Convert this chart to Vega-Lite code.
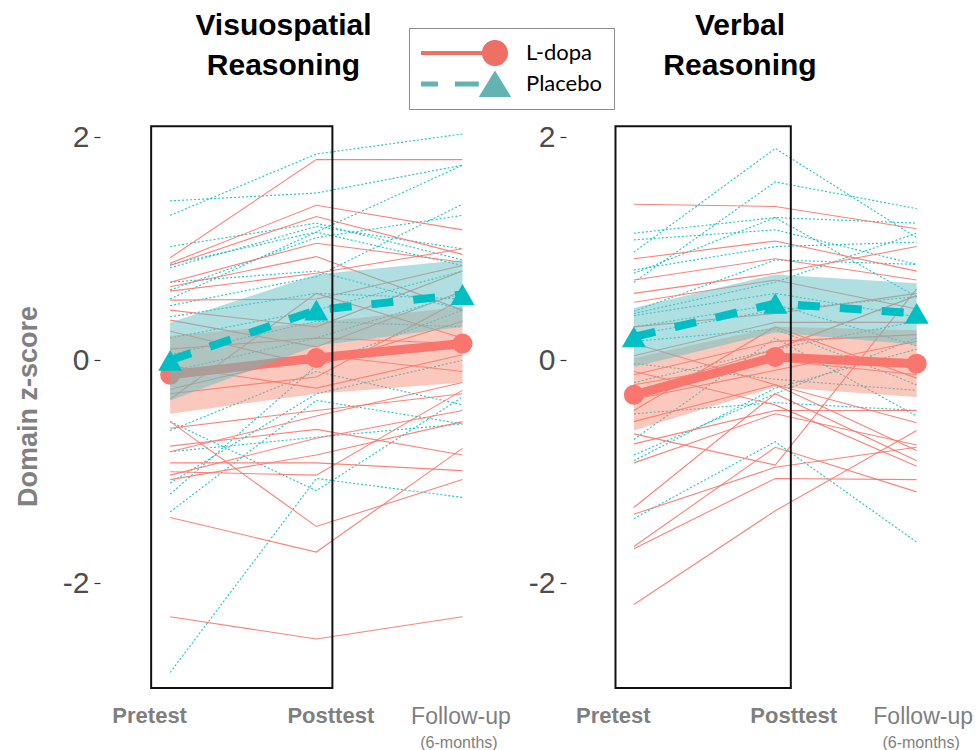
{
  "$schema": "https://vega.github.io/schema/vega-lite/v6.json",
  "padding": {"left": 14, "top": 11, "right": 0, "bottom": 0},
  "config": {"view": {"stroke": null}, "font": "Liberation Sans"},
  "datasets": {
    "indiv": [
      {"p":"V","g":"L-dopa","id":"VL01","1":0.92,"2":1.80,"3":1.80},
      {"p":"V","g":"L-dopa","id":"VL02","1":0.87,"2":1.39,"3":1.17},
      {"p":"V","g":"L-dopa","id":"VL03","1":0.85,"2":1.29,"3":0.95},
      {"p":"V","g":"L-dopa","id":"VL04","1":0.70,"2":1.05,"3":0.88},
      {"p":"V","g":"L-dopa","id":"VL05","1":0.66,"2":0.93,"3":0.45},
      {"p":"V","g":"L-dopa","id":"VL06","1":0.62,"2":0.78,"3":1.00},
      {"p":"V","g":"L-dopa","id":"VL07","1":0.54,"2":0.55,"3":0.85},
      {"p":"V","g":"L-dopa","id":"VL08","1":0.45,"2":0.30,"3":0.80},
      {"p":"V","g":"L-dopa","id":"VL09","1":0.36,"2":0.12,"3":0.62},
      {"p":"V","g":"L-dopa","id":"VL10","1":0.26,"2":-0.05,"3":0.35},
      {"p":"V","g":"L-dopa","id":"VL11","1":0.10,"2":0.20,"3":0.15},
      {"p":"V","g":"L-dopa","id":"VL12","1":-0.05,"2":-0.25,"3":0.05},
      {"p":"V","g":"L-dopa","id":"VL13","1":-0.26,"2":0.05,"3":-0.10},
      {"p":"V","g":"L-dopa","id":"VL14","1":-0.30,"2":-0.15,"3":0.55},
      {"p":"V","g":"L-dopa","id":"VL15","1":-0.35,"2":0.60,"3":0.20},
      {"p":"V","g":"L-dopa","id":"VL16","1":-0.61,"2":-0.45,"3":-0.30},
      {"p":"V","g":"L-dopa","id":"VL17","1":-0.77,"2":-0.62,"3":-0.85},
      {"p":"V","g":"L-dopa","id":"VL18","1":-0.82,"2":-0.50,"3":-0.20},
      {"p":"V","g":"L-dopa","id":"VL19","1":-0.92,"2":-0.92,"3":-0.99},
      {"p":"V","g":"L-dopa","id":"VL20","1":-1.00,"2":-1.03,"3":-0.27},
      {"p":"V","g":"L-dopa","id":"VL21","1":-1.03,"2":-0.70,"3":-0.45},
      {"p":"V","g":"L-dopa","id":"VL22","1":-0.55,"2":-1.49,"3":-1.07},
      {"p":"V","g":"L-dopa","id":"VL23","1":-1.41,"2":-1.72,"3":-0.79},
      {"p":"V","g":"L-dopa","id":"VL24","1":-2.30,"2":-2.50,"3":-2.30},
      {"p":"V","g":"L-dopa","id":"VL25","1":-1.07,"2":-0.85,"3":-0.55},
      {"p":"V","g":"Placebo","id":"VP01","1":1.43,"2":1.50,"3":1.75},
      {"p":"V","g":"Placebo","id":"VP02","1":1.30,"2":1.85,"3":2.03},
      {"p":"V","g":"Placebo","id":"VP03","1":1.02,"2":1.23,"3":0.90},
      {"p":"V","g":"Placebo","id":"VP04","1":0.86,"2":1.15,"3":1.75},
      {"p":"V","g":"Placebo","id":"VP05","1":0.83,"2":1.20,"3":1.00},
      {"p":"V","g":"Placebo","id":"VP06","1":0.63,"2":1.10,"3":1.30},
      {"p":"V","g":"Placebo","id":"VP07","1":0.55,"2":1.15,"3":0.85},
      {"p":"V","g":"Placebo","id":"VP08","1":0.49,"2":0.75,"3":1.40},
      {"p":"V","g":"Placebo","id":"VP09","1":0.39,"2":0.60,"3":0.55},
      {"p":"V","g":"Placebo","id":"VP10","1":0.70,"2":0.80,"3":0.45},
      {"p":"V","g":"Placebo","id":"VP11","1":0.20,"2":0.45,"3":0.80},
      {"p":"V","g":"Placebo","id":"VP12","1":0.05,"2":0.35,"3":0.30},
      {"p":"V","g":"Placebo","id":"VP13","1":-0.10,"2":0.20,"3":0.60},
      {"p":"V","g":"Placebo","id":"VP14","1":-0.55,"2":-1.17,"3":-0.33},
      {"p":"V","g":"Placebo","id":"VP15","1":-0.63,"2":-0.10,"3":-0.40},
      {"p":"V","g":"Placebo","id":"VP16","1":-0.82,"2":-0.69,"3":-0.57},
      {"p":"V","g":"Placebo","id":"VP17","1":-1.10,"2":-0.30,"3":0.00},
      {"p":"V","g":"Placebo","id":"VP18","1":-1.20,"2":-0.05,"3":0.45},
      {"p":"V","g":"Placebo","id":"VP19","1":-1.36,"2":-0.36,"3":-0.57},
      {"p":"V","g":"Placebo","id":"VP20","1":-2.80,"2":-1.06,"3":-1.23},
      {"p":"R","g":"L-dopa","id":"RL01","1":1.40,"2":1.38,"3":1.18},
      {"p":"R","g":"L-dopa","id":"RL02","1":0.91,"2":1.07,"3":0.80},
      {"p":"R","g":"L-dopa","id":"RL03","1":0.72,"2":0.91,"3":0.72},
      {"p":"R","g":"L-dopa","id":"RL04","1":0.60,"2":0.78,"3":1.02},
      {"p":"R","g":"L-dopa","id":"RL05","1":0.52,"2":0.72,"3":0.46},
      {"p":"R","g":"L-dopa","id":"RL06","1":0.30,"2":0.42,"3":0.60},
      {"p":"R","g":"L-dopa","id":"RL07","1":0.04,"2":0.34,"3":0.34},
      {"p":"R","g":"L-dopa","id":"RL08","1":-0.13,"2":0.17,"3":0.23},
      {"p":"R","g":"L-dopa","id":"RL09","1":-0.22,"2":0.00,"3":-0.13},
      {"p":"R","g":"L-dopa","id":"RL10","1":-0.35,"2":-0.09,"3":0.17},
      {"p":"R","g":"L-dopa","id":"RL11","1":-0.45,"2":0.30,"3":-0.16},
      {"p":"R","g":"L-dopa","id":"RL12","1":-0.55,"2":-0.22,"3":-0.56},
      {"p":"R","g":"L-dopa","id":"RL13","1":-0.66,"2":-0.94,"3":0.64},
      {"p":"R","g":"L-dopa","id":"RL14","1":-0.92,"2":-0.48,"3":-0.76},
      {"p":"R","g":"L-dopa","id":"RL15","1":-1.32,"2":-0.30,"3":-0.90},
      {"p":"R","g":"L-dopa","id":"RL16","1":-1.38,"2":-0.96,"3":-0.78},
      {"p":"R","g":"L-dopa","id":"RL17","1":-1.67,"2":-0.78,"3":-1.18},
      {"p":"R","g":"L-dopa","id":"RL18","1":-1.69,"2":-1.06,"3":-1.07},
      {"p":"R","g":"L-dopa","id":"RL19","1":-2.19,"2":-1.35,"3":-0.63},
      {"p":"R","g":"L-dopa","id":"RL20","1":-0.10,"2":-0.40,"3":-0.95},
      {"p":"R","g":"L-dopa","id":"RL21","1":0.15,"2":-0.22,"3":-0.81},
      {"p":"R","g":"L-dopa","id":"RL22","1":-0.28,"2":0.10,"3":0.58},
      {"p":"R","g":"L-dopa","id":"RL23","1":-0.75,"2":-0.45,"3":-0.45},
      {"p":"R","g":"Placebo","id":"RP01","1":0.97,"2":1.90,"3":1.10},
      {"p":"R","g":"Placebo","id":"RP02","1":0.70,"2":1.60,"3":1.36},
      {"p":"R","g":"Placebo","id":"RP03","1":1.14,"2":1.28,"3":1.23},
      {"p":"R","g":"Placebo","id":"RP04","1":1.08,"2":1.17,"3":0.86},
      {"p":"R","g":"Placebo","id":"RP05","1":0.81,"2":1.02,"3":1.06},
      {"p":"R","g":"Placebo","id":"RP06","1":0.78,"2":1.28,"3":0.57},
      {"p":"R","g":"Placebo","id":"RP07","1":0.44,"2":0.90,"3":0.86},
      {"p":"R","g":"Placebo","id":"RP08","1":0.40,"2":0.60,"3":0.39},
      {"p":"R","g":"Placebo","id":"RP09","1":0.30,"2":0.50,"3":0.13},
      {"p":"R","g":"Placebo","id":"RP10","1":0.23,"2":0.45,"3":0.57},
      {"p":"R","g":"Placebo","id":"RP11","1":0.17,"2":0.28,"3":-0.22},
      {"p":"R","g":"Placebo","id":"RP12","1":-0.03,"2":-0.17,"3":-0.27},
      {"p":"R","g":"Placebo","id":"RP13","1":-0.48,"2":-0.38,"3":-0.45},
      {"p":"R","g":"Placebo","id":"RP14","1":-0.71,"2":0.20,"3":-0.50},
      {"p":"R","g":"Placebo","id":"RP15","1":-0.85,"2":-0.30,"3":0.20},
      {"p":"R","g":"Placebo","id":"RP16","1":-0.90,"2":-0.25,"3":0.10},
      {"p":"R","g":"Placebo","id":"RP17","1":-1.42,"2":-0.73,"3":-1.63},
      {"p":"R","g":"Placebo","id":"RP18","1":0.42,"2":0.70,"3":1.14},
      {"p":"R","g":"Placebo","id":"RP19","1":-0.20,"2":0.10,"3":0.35}
    ],
    "means": [
      {"p":"V","g":"L-dopa","t":1,"m":-0.13,"lo":-0.48,"hi":0.22},
      {"p":"V","g":"L-dopa","t":2,"m":0.02,"lo":-0.30,"hi":0.34},
      {"p":"V","g":"L-dopa","t":3,"m":0.15,"lo":-0.20,"hi":0.48},
      {"p":"V","g":"Placebo","t":1,"m":0.00,"lo":-0.36,"hi":0.34},
      {"p":"V","g":"Placebo","t":2,"m":0.45,"lo":0.13,"hi":0.77},
      {"p":"V","g":"Placebo","t":3,"m":0.59,"lo":0.30,"hi":0.90},
      {"p":"R","g":"L-dopa","t":1,"m":-0.31,"lo":-0.63,"hi":0.02},
      {"p":"R","g":"L-dopa","t":2,"m":0.03,"lo":-0.24,"hi":0.30},
      {"p":"R","g":"L-dopa","t":3,"m":-0.03,"lo":-0.33,"hi":0.27},
      {"p":"R","g":"Placebo","t":1,"m":0.21,"lo":-0.06,"hi":0.47},
      {"p":"R","g":"Placebo","t":2,"m":0.51,"lo":0.25,"hi":0.77},
      {"p":"R","g":"Placebo","t":3,"m":0.42,"lo":0.14,"hi":0.69}
    ],
    "boxes": [
      {"p":"V","x1":0.87,"x2":2.11,"y1":-2.94,"y2":2.10},
      {"p":"R","x1":0.87,"x2":2.11,"y1":-2.94,"y2":2.10}
    ]
  },
  "spacing": 17,
  "hconcat": [
    {
      "width": 399,
      "height": 582,
      "title": {"text": ["Visuospatial", "Reasoning"], "font": "Liberation Sans", "fontSize": 30, "fontWeight": "bold", "color": "#000000", "lineHeight": 40, "anchor": "middle", "dx": -16, "offset": 34},
      "resolve": {"axis": {"x": "independent", "y": "independent"}},
      "layer": [
        {
          "data": {"name": "means"},
          "transform": [{"filter": "false"}],
          "mark": {"type": "point", "filled": true, "opacity": 1},
          "encoding": {
            "color": {"field": "g", "type": "nominal", "scale": {"domain": ["L-dopa", "Placebo"], "range": ["#ee6f63", "#62b3b1"]},
              "legend": {"orient": "none", "legendX": 309, "legendY": -87, "title": null, "direction": "vertical",
                "strokeColor": "#8c8c8c", "fillColor": "#ffffff", "padding": 12, "symbolSize": 7569, "clipHeight": 26, "rowPadding": 5, "labelOffset": 18,
                "symbolStrokeWidth": 0, "symbolOpacity": 1,
                "labelFont": "Lato", "labelFontSize": 22, "labelColor": "#000000"}},
            "shape": {"field": "g", "type": "nominal", "scale": {"domain": ["L-dopa", "Placebo"], "range": [
              "M-1,-0.046 L0.7,-0.046 L0.7,0.046 L-1,0.046 Z M0.4,0 A0.3,0.3 0 1,1 1,0 A0.3,0.3 0 1,1 0.4,0 Z",
              "M-1,-0.057 L-0.61,-0.057 L-0.61,0.057 L-1,0.057 Z M-0.22,-0.057 L0.33,-0.057 L0.33,0.057 L-0.22,0.057 Z M0.7,-0.31 L1.08,0.31 L0.32,0.31 Z"]},
              "legend": {"orient": "none", "legendX": 309, "legendY": -87, "title": null, "direction": "vertical",
                "strokeColor": "#8c8c8c", "fillColor": "#ffffff", "padding": 12, "symbolSize": 7569, "clipHeight": 26, "rowPadding": 5, "labelOffset": 18,
                "symbolStrokeWidth": 0, "symbolOpacity": 1,
                "labelFont": "Lato", "labelFontSize": 22, "labelColor": "#000000"}}
          }
        },
        {
          "data": {"name": "indiv"},
          "transform": [{"filter": "datum.p === 'V' && datum.g === 'Placebo'"}, {"fold": ["1", "2", "3"], "as": ["t", "z"]}],
          "mark": {"type": "line", "strokeWidth": 1.1, "opacity": 0.9, "color": "#00bfc4", "strokeDash": [2, 2]},
          "encoding": {
            "x": {"field": "t", "type": "quantitative", "scale": {"domain": [0.52, 3.25], "nice": false, "zero": false}, "axis": null},
            "y": {"field": "z", "type": "quantitative", "scale": {"domain": [-3.02, 2.2], "nice": false, "zero": false}, "axis": null},
            "detail": {"field": "id"}
          }
        },
        {
          "data": {"name": "indiv"},
          "transform": [{"filter": "datum.p === 'V' && datum.g === 'L-dopa'"}, {"fold": ["1", "2", "3"], "as": ["t", "z"]}],
          "mark": {"type": "line", "strokeWidth": 1.1, "opacity": 0.9, "color": "#f8766d"},
          "encoding": {
            "x": {"field": "t", "type": "quantitative",
              "axis": {"orient": "bottom", "values": [1, 2, 3], "title": null, "domain": false, "ticks": false, "grid": false,
                "labelExpr": "datum.value == 1 ? 'Pretest' : datum.value == 2 ? 'Posttest' : 'Follow-up'",
                "labelFont": "Liberation Sans", "labelFontSize": {"expr": "datum.value == 3 ? 23 : 22"}, "labelColor": "#7f7f7f",
                "labelFontWeight": {"expr": "datum.value == 3 ? 'normal' : 'bold'"},
                "labelOffset": {"expr": "datum.value == 1 ? -21 : datum.value == 2 ? 14 : -2"},
                "labelPadding": 8, "labelFlush": false, "labelOverlap": false}},
            "y": {"field": "z", "type": "quantitative",
              "axis": {"orient": "left", "values": [-2, 0, 2], "labelExpr": "'' + datum.value", "title": "Domain z-score", "titleFont": "Liberation Sans", "titleFontSize": 27, "titleFontWeight": "bold", "titleColor": "#808080", "titlePadding": 20,
                "labelFont": "Liberation Sans", "labelFontSize": 30, "labelColor": "#4d4d4d", "labelPadding": 5, "tickSize": 6, "tickColor": "#333333", "tickWidth": 1.2, "domain": false, "grid": false}},
            "detail": {"field": "id"}
          }
        },
        {
          "data": {"name": "means"},
          "transform": [{"filter": "datum.p === 'V' && datum.g === 'L-dopa'"}],
          "mark": {"type": "area", "color": "#f7866f", "opacity": 0.45},
          "encoding": {"x": {"field": "t", "type": "quantitative", "axis": null}, "y": {"field": "lo", "type": "quantitative", "axis": null}, "y2": {"field": "hi"}}
        },
        {
          "data": {"name": "means"},
          "transform": [{"filter": "datum.p === 'V' && datum.g === 'L-dopa'"}],
          "mark": {"type": "line", "color": "#f8766d", "strokeWidth": 9},
          "encoding": {"x": {"field": "t", "type": "quantitative", "axis": null}, "y": {"field": "m", "type": "quantitative", "axis": null}}
        },
        {
          "data": {"name": "means"},
          "transform": [{"filter": "datum.p === 'V' && datum.g === 'L-dopa'"}],
          "mark": {"type": "point", "shape": "circle", "filled": true, "color": "#f8766d", "opacity": 1, "size": 400},
          "encoding": {"x": {"field": "t", "type": "quantitative", "axis": null}, "y": {"field": "m", "type": "quantitative", "axis": null}}
        },
        {
          "data": {"name": "means"},
          "transform": [{"filter": "datum.p === 'V' && datum.g === 'Placebo'"}],
          "mark": {"type": "area", "color": "#5fbfc1", "opacity": 0.5},
          "encoding": {"x": {"field": "t", "type": "quantitative", "axis": null}, "y": {"field": "lo", "type": "quantitative", "axis": null}, "y2": {"field": "hi"}}
        },
        {
          "data": {"name": "means"},
          "transform": [{"filter": "datum.p === 'V' && datum.g === 'Placebo'"}],
          "mark": {"type": "line", "color": "#00bfc4", "strokeWidth": 8, "strokeDash": [22, 20]},
          "encoding": {"x": {"field": "t", "type": "quantitative", "axis": null}, "y": {"field": "m", "type": "quantitative", "axis": null}}
        },
        {
          "data": {"name": "means"},
          "transform": [{"filter": "datum.p === 'V' && datum.g === 'Placebo'"}],
          "mark": {"type": "point", "shape": "triangle-up", "filled": true, "color": "#00bfc4", "opacity": 1, "size": 576},
          "encoding": {"x": {"field": "t", "type": "quantitative", "axis": null}, "y": {"field": "m", "type": "quantitative", "axis": null}}
        },
        {
          "data": {"name": "boxes"},
          "transform": [{"filter": "datum.p === 'V'"}],
          "mark": {"type": "rect", "fillOpacity": 0, "stroke": "#111111", "strokeWidth": 2},
          "encoding": {
            "x": {"field": "x1", "type": "quantitative",
              "axis": {"orient": "bottom", "values": [3], "labelExpr": "'(6-months)'", "title": null, "domain": false, "ticks": false, "grid": false,
                "labelFont": "Liberation Sans", "labelFontSize": 16, "labelColor": "#7f7f7f", "labelPadding": 37, "labelOffset": -4, "labelFlush": false, "labelOverlap": false}},
            "x2": {"field": "x2"},
            "y": {"field": "y1", "type": "quantitative", "axis": null},
            "y2": {"field": "y2"}
          }
        }
      ]
    },
    {
      "width": 386,
      "height": 582,
      "title": {"text": ["Verbal", "Reasoning"], "font": "Liberation Sans", "fontSize": 30, "fontWeight": "bold", "color": "#000000", "lineHeight": 40, "anchor": "middle", "dx": -19, "offset": 34},
      "resolve": {"axis": {"x": "independent", "y": "independent"}},
      "layer": [
        {
          "data": {"name": "indiv"},
          "transform": [{"filter": "datum.p === 'R' && datum.g === 'Placebo'"}, {"fold": ["1", "2", "3"], "as": ["t", "z"]}],
          "mark": {"type": "line", "strokeWidth": 1.1, "opacity": 0.9, "color": "#00bfc4", "strokeDash": [2, 2]},
          "encoding": {
            "x": {"field": "t", "type": "quantitative", "scale": {"domain": [0.52, 3.25], "nice": false, "zero": false}, "axis": null},
            "y": {"field": "z", "type": "quantitative", "scale": {"domain": [-3.02, 2.2], "nice": false, "zero": false}, "axis": null},
            "detail": {"field": "id"}
          }
        },
        {
          "data": {"name": "indiv"},
          "transform": [{"filter": "datum.p === 'R' && datum.g === 'L-dopa'"}, {"fold": ["1", "2", "3"], "as": ["t", "z"]}],
          "mark": {"type": "line", "strokeWidth": 1.1, "opacity": 0.9, "color": "#f8766d"},
          "encoding": {
            "x": {"field": "t", "type": "quantitative",
              "axis": {"orient": "bottom", "values": [1, 2, 3], "title": null, "domain": false, "ticks": false, "grid": false,
                "labelExpr": "datum.value == 1 ? 'Pretest' : datum.value == 2 ? 'Posttest' : 'Follow-up'",
                "labelFont": "Liberation Sans", "labelFontSize": {"expr": "datum.value == 3 ? 23 : 22"}, "labelColor": "#7f7f7f",
                "labelFontWeight": {"expr": "datum.value == 3 ? 'normal' : 'bold'"},
                "labelOffset": {"expr": "datum.value == 1 ? -21 : datum.value == 2 ? 18 : 6"},
                "labelPadding": 8, "labelFlush": false, "labelOverlap": false}},
            "y": {"field": "z", "type": "quantitative",
              "axis": {"orient": "left", "values": [-2, 0, 2], "labelExpr": "'' + datum.value", "title": null,
                "labelFont": "Liberation Sans", "labelFontSize": 30, "labelColor": "#4d4d4d", "labelPadding": 5, "tickSize": 6, "tickColor": "#333333", "tickWidth": 1.2, "domain": false, "grid": false}},
            "detail": {"field": "id"}
          }
        },
        {
          "data": {"name": "means"},
          "transform": [{"filter": "datum.p === 'R' && datum.g === 'L-dopa'"}],
          "mark": {"type": "area", "color": "#f7866f", "opacity": 0.45},
          "encoding": {"x": {"field": "t", "type": "quantitative", "axis": null}, "y": {"field": "lo", "type": "quantitative", "axis": null}, "y2": {"field": "hi"}}
        },
        {
          "data": {"name": "means"},
          "transform": [{"filter": "datum.p === 'R' && datum.g === 'L-dopa'"}],
          "mark": {"type": "line", "color": "#f8766d", "strokeWidth": 9},
          "encoding": {"x": {"field": "t", "type": "quantitative", "axis": null}, "y": {"field": "m", "type": "quantitative", "axis": null}}
        },
        {
          "data": {"name": "means"},
          "transform": [{"filter": "datum.p === 'R' && datum.g === 'L-dopa'"}],
          "mark": {"type": "point", "shape": "circle", "filled": true, "color": "#f8766d", "opacity": 1, "size": 400},
          "encoding": {"x": {"field": "t", "type": "quantitative", "axis": null}, "y": {"field": "m", "type": "quantitative", "axis": null}}
        },
        {
          "data": {"name": "means"},
          "transform": [{"filter": "datum.p === 'R' && datum.g === 'Placebo'"}],
          "mark": {"type": "area", "color": "#5fbfc1", "opacity": 0.5},
          "encoding": {"x": {"field": "t", "type": "quantitative", "axis": null}, "y": {"field": "lo", "type": "quantitative", "axis": null}, "y2": {"field": "hi"}}
        },
        {
          "data": {"name": "means"},
          "transform": [{"filter": "datum.p === 'R' && datum.g === 'Placebo'"}],
          "mark": {"type": "line", "color": "#00bfc4", "strokeWidth": 8, "strokeDash": [22, 20]},
          "encoding": {"x": {"field": "t", "type": "quantitative", "axis": null}, "y": {"field": "m", "type": "quantitative", "axis": null}}
        },
        {
          "data": {"name": "means"},
          "transform": [{"filter": "datum.p === 'R' && datum.g === 'Placebo'"}],
          "mark": {"type": "point", "shape": "triangle-up", "filled": true, "color": "#00bfc4", "opacity": 1, "size": 576},
          "encoding": {"x": {"field": "t", "type": "quantitative", "axis": null}, "y": {"field": "m", "type": "quantitative", "axis": null}}
        },
        {
          "data": {"name": "boxes"},
          "transform": [{"filter": "datum.p === 'R'"}],
          "mark": {"type": "rect", "fillOpacity": 0, "stroke": "#111111", "strokeWidth": 2},
          "encoding": {
            "x": {"field": "x1", "type": "quantitative",
              "axis": {"orient": "bottom", "values": [3], "labelExpr": "'(6-months)'", "title": null, "domain": false, "ticks": false, "grid": false,
                "labelFont": "Liberation Sans", "labelFontSize": 16, "labelColor": "#7f7f7f", "labelPadding": 37, "labelOffset": 4, "labelFlush": false, "labelOverlap": false}},
            "x2": {"field": "x2"},
            "y": {"field": "y1", "type": "quantitative", "axis": null},
            "y2": {"field": "y2"}
          }
        }
      ]
    }
  ]
}
